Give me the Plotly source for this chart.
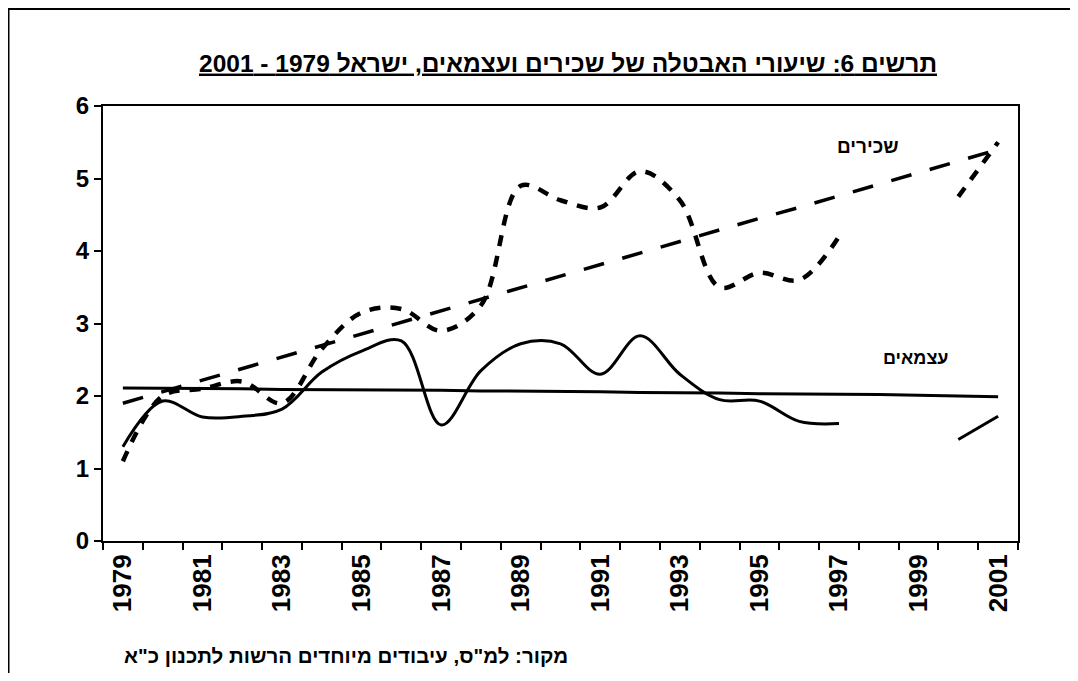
import plotly.graph_objects as go

years = list(range(1979, 2002))
year_labels = [str(y) for y in range(1979, 2002, 2)]

# שכירים - actual (dotted)
employees = [1.1, 2.0, 2.1, 2.2, 1.9, 2.65, 3.15, 3.2, 2.9, 3.25, 4.9, 4.7, 4.6, 5.1, 4.7,
             3.5, 3.7, 3.6, 4.2, None, None, 4.75, 5.5]
# שכירים - trend (long dash)
employees_trend = [1.90, 2.06, 2.22, 2.38, 2.54, 2.70, 2.85, 3.01, 3.17, 3.33, 3.49, 3.65,
                   3.81, 3.97, 4.13, 4.29, 4.45, 4.60, 4.76, 4.92, 5.08, 5.24, 5.40]
# עצמאים - actual (solid)
selfemp = [1.3, 1.93, 1.71, 1.72, 1.82, 2.33, 2.62, 2.76, 1.6, 2.35, 2.72, 2.72, 2.3, 2.83, 2.3,
           1.95, 1.93, 1.65, 1.62, None, None, 1.4, 1.72]
# עצמאים - trend (solid)
selfemp_trend = [2.11, 2.11, 2.10, 2.10, 2.09, 2.09, 2.09, 2.08, 2.08, 2.07, 2.07, 2.06,
                 2.06, 2.05, 2.05, 2.04, 2.03, 2.03, 2.02, 2.02, 2.01, 2.00, 1.99]

FONT = "Liberation Sans, Arial, DejaVu Sans, sans-serif"
RLE, PDF = "\u202B", "\u202C"

fig = go.Figure()
fig.add_trace(go.Scatter(x=years, y=employees_trend, mode="lines",
                         line=dict(color="black", width=3.5, dash="21px,19px"),
                         hoverinfo="skip"))
fig.add_trace(go.Scatter(x=years, y=employees, mode="lines",
                         line=dict(color="black", width=4.5, dash="11px,10px",
                                   shape="spline", smoothing=1.0),
                         connectgaps=False, hoverinfo="skip"))
fig.add_trace(go.Scatter(x=years, y=selfemp_trend, mode="lines",
                         line=dict(color="black", width=3), hoverinfo="skip"))
fig.add_trace(go.Scatter(x=years, y=selfemp, mode="lines",
                         line=dict(color="black", width=3, shape="spline", smoothing=1.0),
                         connectgaps=False, hoverinfo="skip"))

# figure is placed at page offset (8, 8) by the html body margin
W, H = 1062, 665
L, R, T, B = 95, 1010, 98, 533

def px(xp):
    return (xp - L) / (R - L)

def py(yp):
    return (B - yp) / (B - T)

fig.update_layout(
    width=W, height=H,
    margin=dict(l=L, r=W - R, t=T, b=H - B),
    paper_bgcolor="white", plot_bgcolor="white",
    showlegend=False,
    font=dict(family=FONT, color="black"),
    title=dict(text="<b><u>" + RLE + "תרשים 6: שיעורי האבטלה של שכירים ועצמאים, ישראל 1979 - 2001" + PDF + "</u></b>",
               x=560 / W, xanchor="center", y=1 - 55 / H, yanchor="middle",
               font=dict(size=24.5, family=FONT, color="black")),
    xaxis=dict(range=[1978.5, 2001.5], tickmode="array", tickvals=list(range(1979, 2002, 2)),
               ticktext=["<b>" + t + "</b>" for t in year_labels], tickangle=-90,
               ticks="", showgrid=False, zeroline=False,
               showline=True, linecolor="black", linewidth=2, mirror=True,
               tickfont=dict(size=26, family=FONT, color="black"),
               ticklabelstandoff=1,
               minor=dict(tickmode="linear", tick0=1978.5, dtick=1, ticks="outside",
                          ticklen=7, tickwidth=1.5, tickcolor="black", showgrid=False)),
    yaxis=dict(range=[0, 6], tickmode="linear", tick0=0, dtick=1,
               ticks="outside", ticklen=7, tickwidth=1.5, tickcolor="black",
               showgrid=False, zeroline=False,
               showline=True, linecolor="black", linewidth=2, mirror=True,
               tickfont=dict(size=24, family=FONT, color="black"),
               tickprefix="<b>", ticksuffix="</b>"),
)

fig.add_annotation(text="<b>" + RLE + "שכירים" + PDF + "</b>", xref="paper", yref="paper",
                   x=px(860), y=py(138), xanchor="center", yanchor="middle", showarrow=False,
                   font=dict(size=19, family=FONT, color="black"))
fig.add_annotation(text="<b>" + RLE + "עצמאים" + PDF + "</b>", xref="paper", yref="paper",
                   x=px(907), y=py(350), xanchor="center", yanchor="middle", showarrow=False,
                   font=dict(size=18, family=FONT, color="black"))
fig.add_annotation(text="<b>" + RLE + "מקור: למ\"ס, עיבודים מיוחדים הרשות לתכנון כ\"א" + PDF + "</b>",
                   xref="paper", yref="paper", x=px(562), y=py(647),
                   xanchor="right", yanchor="middle", showarrow=False,
                   font=dict(size=20.5, family=FONT, color="black"))

# outer chart frame (right/bottom edges fall outside the picture)
fig.add_shape(type="rect", xref="paper", yref="paper",
              x0=px(0.5), y0=py(720), x1=px(1120), y1=py(1),
              line=dict(color="black", width=2), layer="below")

fig.write_html("out.html")
